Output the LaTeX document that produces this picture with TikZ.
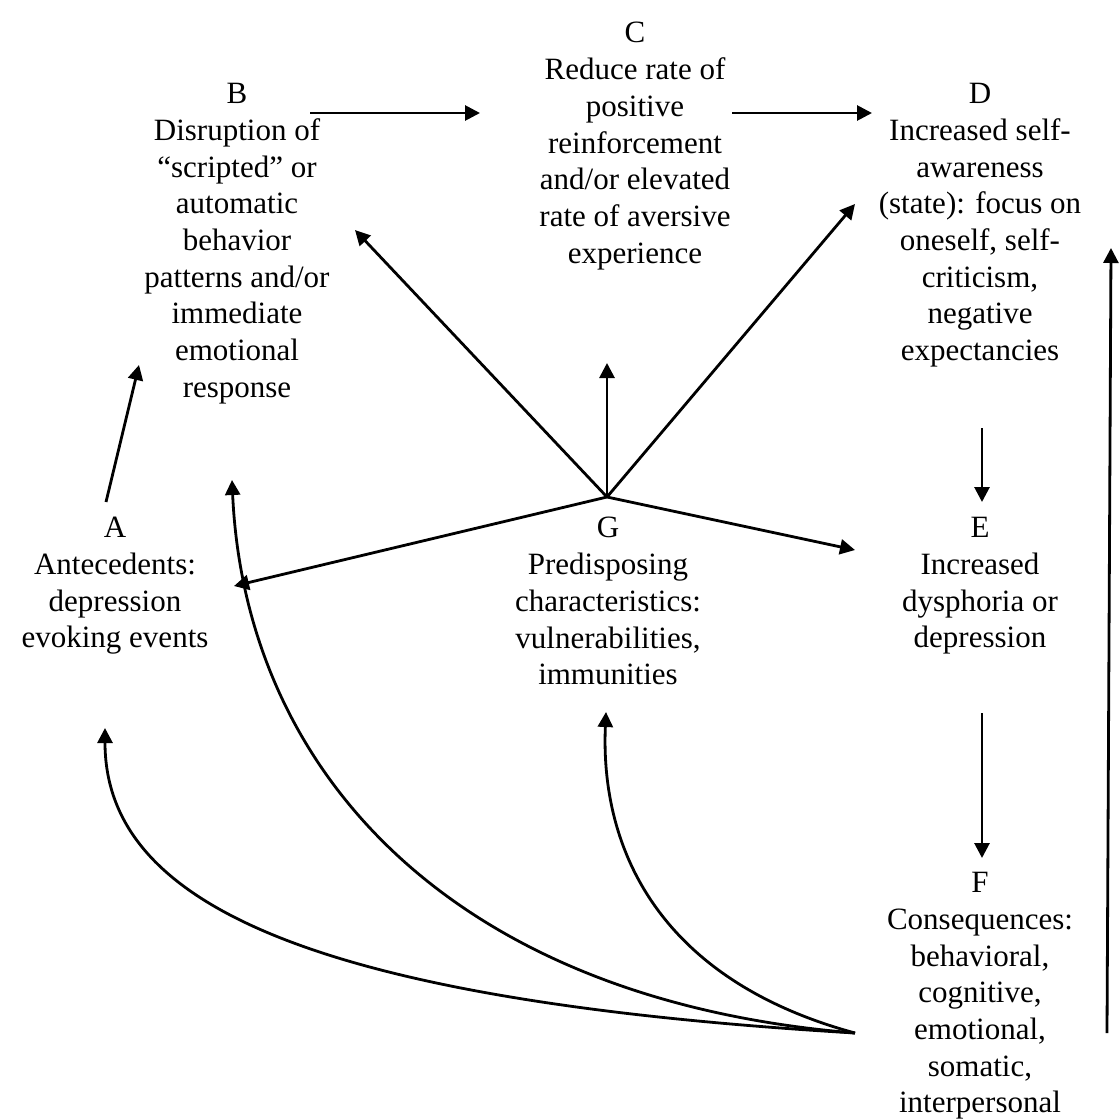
\documentclass[tikz,border=0pt]{standalone}
\usepackage{fontspec}
\setmainfont{Liberation Serif}
\usetikzlibrary{arrows.meta}

\begin{document}
\begin{tikzpicture}[x=0.5pt, y=-0.5pt,
    textBlock/.style={anchor=north, align=center, inner sep=0pt, font=\fontsize{15.5}{18.35}\selectfont},
    link/.style={line width=1.4pt, -{Triangle[length=7.5pt, width=7.5pt]}}]

    % Fix the canvas
    \useasboundingbox (0,0) rectangle (1119,1120);

    % Draw the text blocks
    \node[textBlock] (C) at (635,22) {C\\Reduce rate of\\positive\\reinforcement\\and/or elevated\\rate of aversive\\experience};
    \node[textBlock] (B) at (237,83) {B\\Disruption of\\“scripted” or\\automatic\\behavior\\patterns and/or\\immediate\\emotional\\response};
    \node[textBlock] (D) at (980,83) {D\\Increased self-\\awareness\\(state): focus on\\oneself, self-\\criticism,\\negative\\expectancies};
    \node[textBlock] (A) at (115,517) {A\\Antecedents:\\depression\\evoking events};
    \node[textBlock] (G) at (608,517) {G\\Predisposing\\characteristics:\\vulnerabilities,\\immunities};
    \node[textBlock] (E) at (980,517) {E\\Increased\\dysphoria or\\depression};
    \node[textBlock] (F) at (980,872) {F\\Consequences:\\behavioral,\\cognitive,\\emotional,\\somatic,\\interpersonal};

    % Define the arrow ends
    \coordinate (hub) at (607,497);
    \coordinate (bcStart) at (310,113);
    \coordinate (bcEnd) at (480,113);
    \coordinate (cdStart) at (732,113);
    \coordinate (cdEnd) at (872,113);
    \coordinate (abStart) at (106,502);
    \coordinate (abEnd) at (139,365);
    \coordinate (toB) at (355,230);
    \coordinate (toC) at (607,363);
    \coordinate (toD) at (855,204);
    \coordinate (toA) at (234,586);
    \coordinate (toE) at (855,550);
    \coordinate (deStart) at (982,428);
    \coordinate (deEnd) at (982,502);
    \coordinate (efStart) at (982,713);
    \coordinate (efEnd) at (982,858);
    \coordinate (fOut) at (855,1033);
    \coordinate (fRight) at (1107,1033);
    \coordinate (backTop) at (1111,248);
    \coordinate (backA) at (105,728);
    \coordinate (backB) at (232,480);
    \coordinate (backG) at (606,712);

    % Draw the chain along the top and down the right
    \draw[link] (bcStart) -- (bcEnd);
    \draw[link] (cdStart) -- (cdEnd);
    \draw[link] (abStart) -- (abEnd);
    \draw[link] (deStart) -- (deEnd);
    \draw[link] (efStart) -- (efEnd);

    % Draw the arrows out of G
    \foreach \target in {toB, toC, toD, toA, toE}
        \draw[link] (hub) -- (\target);

    % Draw the feedback from F
    \draw[link] (fRight) -- (backTop);
    \draw[link] (fOut) .. controls (300,1000) and (105,900) .. (backA);
    \draw[link] (fOut) .. controls (450,1000) and (245,770) .. (backB);
    \draw[link] (fOut) .. controls (660,980) and (600,850) .. (backG);

\end{tikzpicture}
\end{document}
